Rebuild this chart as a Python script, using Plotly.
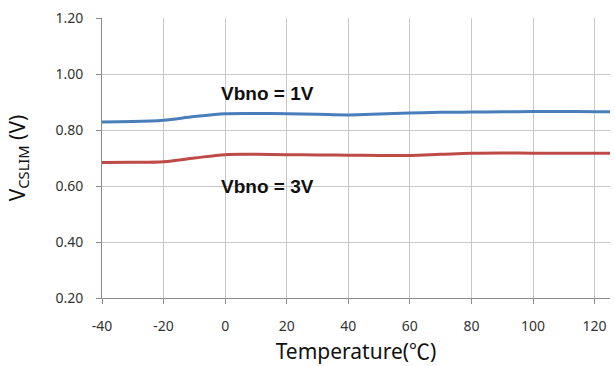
import plotly.graph_objects as go

# Temperature sweep (°C) and measured current-limit threshold voltage (V)
temperature = [-40, -30, -20, -10, 0, 10, 20, 30, 40, 50, 60, 70, 80, 90, 100, 110, 120, 125]
vcslim_vbno_1v = [0.829, 0.830, 0.835, 0.848, 0.858, 0.859, 0.858, 0.856, 0.854, 0.857, 0.861, 0.863, 0.864, 0.865, 0.866, 0.866, 0.865, 0.865]
vcslim_vbno_3v = [0.684, 0.685, 0.687, 0.700, 0.712, 0.713, 0.712, 0.711, 0.710, 0.709, 0.709, 0.713, 0.717, 0.718, 0.717, 0.717, 0.717, 0.717]

series_labels = ["Vbno = 1V", "Vbno = 3V"]
x_ticks = [-40, -20, 0, 20, 40, 60, 80, 100, 120]
y_ticks = [0.20, 0.40, 0.60, 0.80, 1.00, 1.20]

fig = go.Figure()
fig.add_trace(go.Scatter(x=temperature, y=vcslim_vbno_1v, mode="lines",
                         line=dict(color="#4a7ebb", width=3, shape="spline"),
                         name=series_labels[0], showlegend=False))
fig.add_trace(go.Scatter(x=temperature, y=vcslim_vbno_3v, mode="lines",
                         line=dict(color="#be4b48", width=3, shape="spline"),
                         name=series_labels[1], showlegend=False))

label_font = dict(family="Liberation Sans, Arial", size=19, color="#111111")
fig.add_annotation(x=-2, y=0.93, text="<b>%s</b>" % series_labels[0], showarrow=False,
                   xanchor="left", yanchor="middle", font=label_font)
fig.add_annotation(x=-2, y=0.598, text="<b>%s</b>" % series_labels[1], showarrow=False,
                   xanchor="left", yanchor="middle", font=label_font)

tick_font = dict(family="Noto Sans, Open Sans", size=14, color="#333333")
title_font = dict(family="Noto Sans", size=21, color="#111111")
x_title = "Temperature(<span style=\"font-family:'Noto Sans CJK SC'\">℃</span>)"
fig.update_xaxes(range=[-40, 125], tickvals=x_ticks, ticktext=[str(v) for v in x_ticks],
                 showgrid=True, gridcolor="#c8c8c8", gridwidth=1,
                 showline=True, linecolor="#8c8c8c", linewidth=1,
                 ticks="outside", ticklen=5, tickcolor="#8c8c8c",
                 tickfont=tick_font, ticklabelstandoff=10, zeroline=False,
                 title=dict(text=x_title, font=title_font, standoff=10))
fig.update_yaxes(range=[0.2, 1.2], tickvals=y_ticks, ticktext=["%.2f" % v for v in y_ticks],
                 showgrid=True, gridcolor="#c8c8c8", gridwidth=1,
                 showline=True, linecolor="#8c8c8c", linewidth=1,
                 ticks="outside", ticklen=5, tickcolor="#8c8c8c",
                 tickfont=tick_font, ticklabelstandoff=10, zeroline=False,
                 title=dict(text="V<sub>CSLIM</sub> (V)", font=title_font, standoff=24))

fig.update_layout(width=615, height=366, margin=dict(l=102, r=5, t=18, b=68),
                  plot_bgcolor="white", paper_bgcolor="white")

fig.write_html("out.html")
